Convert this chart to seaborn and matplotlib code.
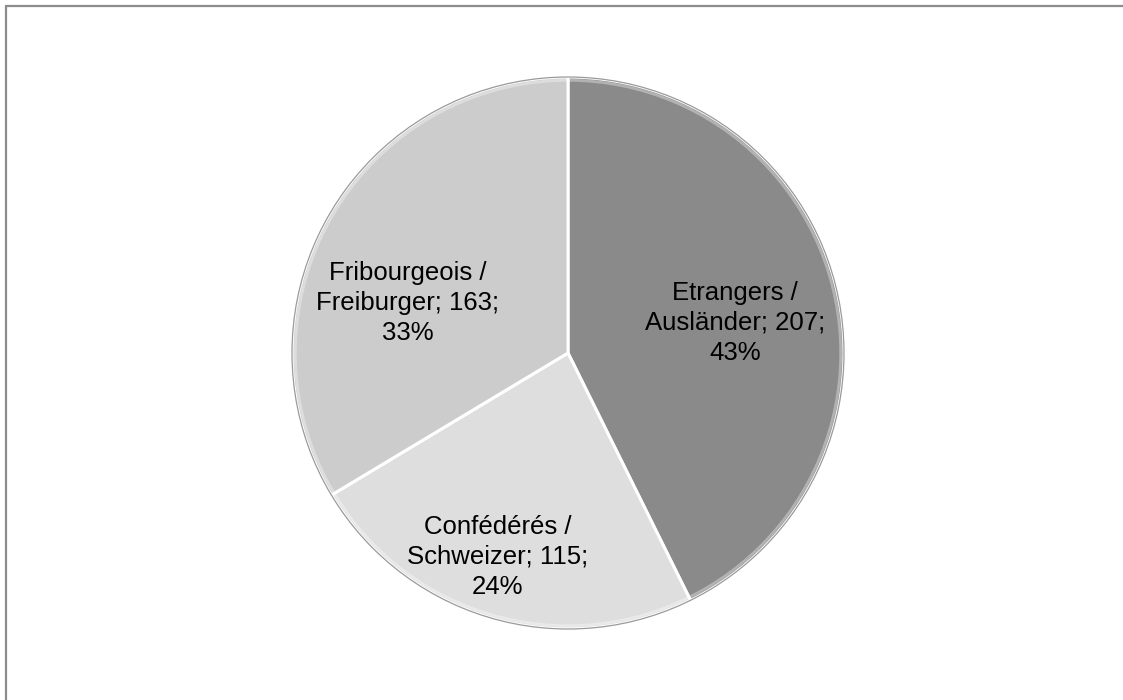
import matplotlib
matplotlib.use("Agg")
import matplotlib.pyplot as plt
import seaborn as sns
from matplotlib.lines import Line2D
from matplotlib.patches import Circle

# ---- data ----
categories = ["Etrangers /\nAusländer", "Confédérés /\nSchweizer", "Fribourgeois /\nFreiburger"]
values = [207, 115, 163]
percents = [43, 24, 33]
colors = ["#8a8a8a", "#dedede", "#cccccc"]

sns.set_theme(style="white")
plt.rcParams["font.family"] = ["Liberation Sans", "DejaVu Sans"]

fig = plt.figure(figsize=(11.23, 7.0), dpi=100)
fig.patch.set_facecolor("white")

lim = 1.05
R_px = 276
cx, cy = 568, 353
w_px = 2 * R_px * lim
ax = fig.add_axes([(cx - w_px / 2) / 1123, (700 - (cy + w_px / 2)) / 700, w_px / 1123, w_px / 700])

wedges, _ = ax.pie(
    values,
    colors=colors,
    startangle=90,
    counterclock=False,
    radius=1.0,
    wedgeprops=dict(edgecolor="white", linewidth=2.2),
)
for w in wedges:
    w.set_zorder(2)
# subtle bevel rim
rim = Circle((0, 0), 0.988, fill=False, edgecolor="white", linewidth=2.0, alpha=0.35, zorder=3)
ax.add_patch(rim)
outer = Circle((0, 0), 1.0, fill=False, edgecolor="#9a9a9a", linewidth=0.9, zorder=3)
ax.add_patch(outer)

ax.set_xlim(-lim, lim)
ax.set_ylim(-lim, lim)
ax.set_aspect("equal")
ax.axis("off")

# label positions (pie radius units)
label_pos = [(0.605, 0.109), (-0.254, -0.739), (-0.580, 0.181)]
for cat, v, p, (lx, ly) in zip(categories, values, percents, label_pos):
    ax.text(lx, ly, f"{cat}; {v};\n{p}%", ha="center", va="center",
            multialignment="center", fontsize=18.5, color="#000000",
            linespacing=1.32, zorder=5)

# chart frame (top and left edges visible)
fig.add_artist(Line2D([6 / 1123, 6 / 1123], [0, 1 - 6 / 700], transform=fig.transFigure,
                      color="#8c8c8c", linewidth=1.6))
fig.add_artist(Line2D([6 / 1123, 1], [1 - 6 / 700, 1 - 6 / 700], transform=fig.transFigure,
                      color="#8c8c8c", linewidth=1.6))

fig.savefig("out.png", dpi=100, facecolor="white")
